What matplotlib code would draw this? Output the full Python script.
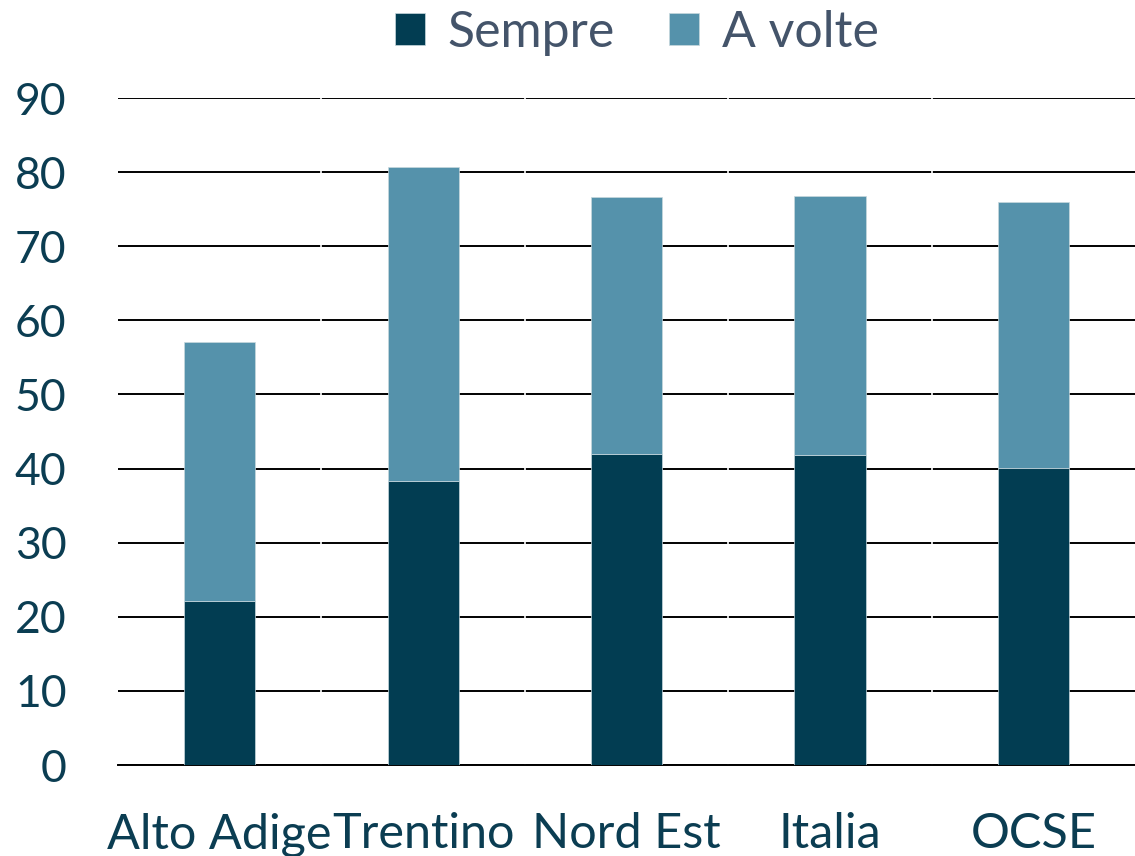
import numpy as np
import matplotlib
matplotlib.use('Agg')
import matplotlib.pyplot as plt

# data
categories = ['Alto Adige', 'Trentino', 'Nord Est', 'Italia', 'OCSE']
sempre = [22.1, 38.3, 42.0, 41.8, 40.1]
a_volte = [35.0, 42.4, 34.7, 35.0, 35.9]
yticks = [0, 10, 20, 30, 40, 50, 60, 70, 80, 90]

dark = '#023D52'
light = '#5592AB'
text_col = '#0B3D52'

plt.rcParams['font.family'] = ['Lato', 'DejaVu Sans']

fig = plt.figure(figsize=(11.35, 8.56), dpi=100)
ax = fig.add_axes([0.104, 0.1063, 0.896, 0.7792])

x = np.arange(len(categories))
ax.bar(x, sempre, width=0.35, color=dark, edgecolor='#c8d8de', linewidth=0.5,
       label='Sempre', zorder=3)
ax.bar(x, a_volte, width=0.35, bottom=sempre, color=light, edgecolor='#c8d8de',
       linewidth=0.5, label='A volte', zorder=3)

ax.set_xlim(-0.5, len(categories) - 0.5)
ax.set_ylim(0, 90)
ax.set_yticks(yticks)
ax.yaxis.grid(True, color='black', linewidth=1.4, zorder=0)
ax.set_axisbelow(True)
# small breaks in the gridlines between categories
for b in np.arange(0.5, len(categories) - 0.5, 1):
    ax.axvline(b, color='white', linewidth=1.2, zorder=1)

for s in ['top', 'right', 'left']:
    ax.spines[s].set_visible(False)
ax.spines['bottom'].set_color('black')
ax.spines['bottom'].set_linewidth(1.4)
ax.spines['bottom'].set_zorder(2)

ax.set_xticks(x)
ax.set_xticklabels(categories)
ax.tick_params(axis='both', length=0, colors=text_col)
ax.tick_params(axis='x', labelsize=35, pad=34)
ax.tick_params(axis='y', labelsize=32, pad=37)

leg = ax.legend(loc='upper center', bbox_to_anchor=(0.51, 1.2), ncol=2,
                frameon=False, fontsize=36, handlelength=0.6, handleheight=0.6,
                handletextpad=0.45, columnspacing=1.1)
for t in leg.get_texts():
    t.set_color('#44546A')

fig.savefig('out.png', dpi=100)
